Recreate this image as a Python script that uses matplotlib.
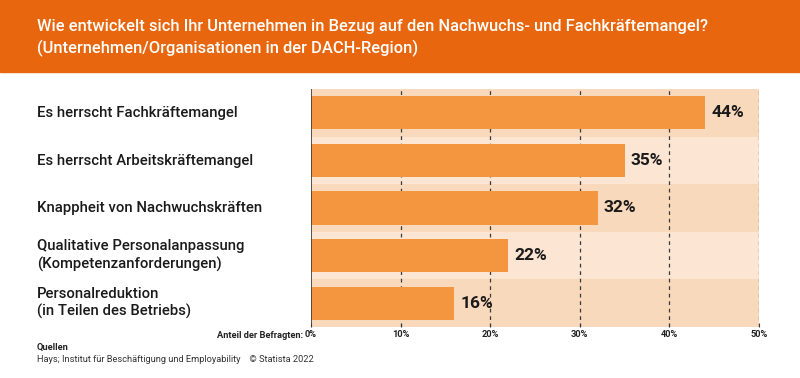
import matplotlib.pyplot as plt
import matplotlib.patches as mpatches

# --- Daten ---
categories = [
    "Es herrscht Fachkräftemangel",
    "Es herrscht Arbeitskräftemangel",
    "Knappheit von Nachwuchskräften",
    "Qualitative Personalanpassung\n(Kompetenzanforderungen)",
    "Personalreduktion\n(in Teilen des Betriebs)",
]
values = [44, 35, 32, 22, 16]
ticks = [0, 10, 20, 30, 40, 50]
tick_labels = ["0%", "10%", "20%", "30%", "40%", "50%"]

title = ("Wie entwickelt sich Ihr Unternehmen in Bezug auf den Nachwuchs- und Fachkräftemangel?\n"
         "(Unternehmen/Organisationen in der DACH-Region)")

plt.rcParams['font.family'] = ['Roboto', 'DejaVu Sans']

W, H = 800, 378
fig = plt.figure(figsize=(W / 100, H / 100), dpi=100)

# --- Kopfbereich ---
fig.patches.append(mpatches.Rectangle((0, 1 - 72 / H), 1, 72 / H, transform=fig.transFigure,
                                      color="#E8670E", zorder=0))
fig.text(37 / W, 1 - 38 / H, title, color="white", fontsize=11.9, fontweight="medium",
         va="center", ha="left", linespacing=1.5)

# --- Diagramm ---
ax = fig.add_axes([311 / W, 1 - 327 / H, (759 - 311) / W, (327 - 89) / H])
n = len(categories)
band_colors = ["#F9D9BC", "#FCE5D3"]
for i in range(n):
    ax.axhspan(i - 0.5, i + 0.5, color=band_colors[i % 2], zorder=0, lw=0)

ax.barh(range(n), values, height=0.70, color="#F3963F", zorder=2)
for i, v in enumerate(values):
    ax.text(v + 0.65, i, f"{v}%", va="center", ha="left", fontsize=12.5,
            fontweight="bold", color="#1a1a1a", zorder=3)

for t in ticks[1:]:
    ax.axvline(t, color="#3a3a3a", lw=0.9, ls=(0, (3, 3)), zorder=1)
ax.axvline(0, color="#3a3a3a", lw=1.2, zorder=3)

ax.set_xlim(0, 50)
ax.set_ylim(n - 0.5, -0.5)
ax.set_yticks([])
ax.set_xticks(ticks)
ax.set_xticklabels(tick_labels, fontsize=6.7, fontweight="bold", color="#222222")
ax.tick_params(axis="x", length=3, width=0.8, color="#3a3a3a", pad=2, direction="in")
for s in ax.spines.values():
    s.set_visible(False)

for i, c in enumerate(categories):
    fig.text(37 / W, 1 - (113.5 + i * 47.4) / H, c, fontsize=10.7, fontweight="medium",
             color="#1a1a1a", va="center", ha="left", linespacing=1.3)

fig.text(303 / W, 1 - 335 / H, "Anteil der Befragten:", fontsize=6.7, fontweight="bold",
         color="#222222", ha="right", va="center")

# --- Quellen ---
fig.text(37 / W, 1 - 347 / H, "Quellen", fontsize=6.7, fontweight="bold", color="#222222",
         va="center", ha="left")
fig.text(37 / W, 1 - 359 / H, "Hays; Institut für Beschäftigung und Employability    © Statista 2022",
         fontsize=6.7, color="#333333", va="center", ha="left")

fig.savefig("out.png", dpi=100)
